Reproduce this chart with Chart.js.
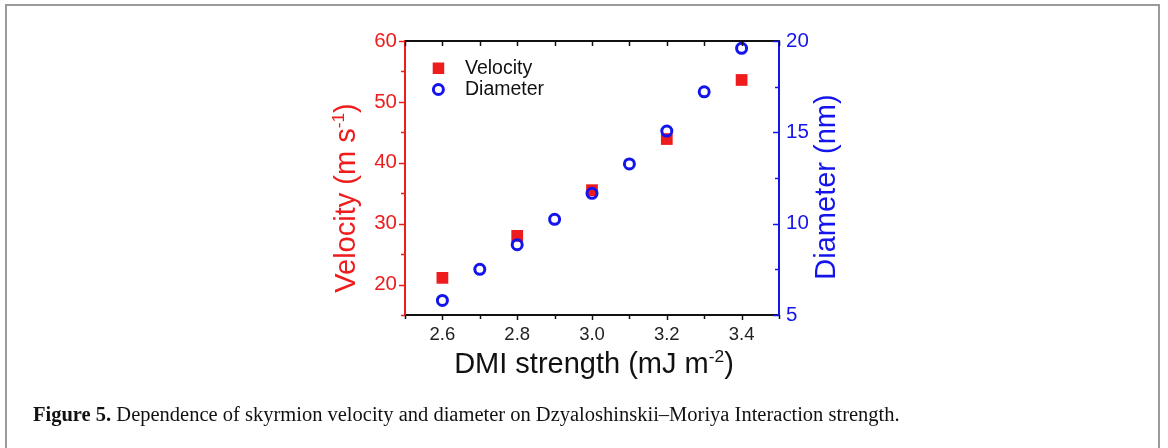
<!DOCTYPE html>
<html>
<head>
<meta charset="utf-8">
<script src="https://cdn.jsdelivr.net/npm/chart.js@4.4.1/dist/chart.umd.min.js"></script>
<style>
  html, body { margin: 0; padding: 0; background: #fff; width: 1168px; height: 448px; overflow: hidden; }
  #frame { position: absolute; left: 5px; top: 4px; width: 1155px; height: 460px; border: 2px solid #9a9a9a; box-sizing: border-box; }
  #c { position: absolute; left: 0; top: 0; }
  #cap { position: absolute; left: 33px; top: 404px; font: 20.5px "Liberation Serif", "Times New Roman", serif; color: #111; line-height: 20px; white-space: nowrap; }
</style>
</head>
<body>
<div id="frame"></div>
<canvas id="c" width="1168" height="448"></canvas>
<div id="cap"><b>Figure 5.</b> Dependence of skyrmion velocity and diameter on Dzyaloshinskii–Moriya Interaction strength.</div>
<script>
// valeurs
const dmiVel = [2.6, 2.8, 3.0, 3.2, 3.4];
const velocity = [21.1, 28.0, 35.5, 43.9, 53.6];
const dmiDia = [2.6, 2.7, 2.8, 2.9, 3.0, 3.1, 3.2, 3.3, 3.4];
const diameter = [5.8, 7.5, 8.85, 10.24, 11.66, 13.27, 15.07, 17.22, 19.6];
const legendLabels = ['Velocity', 'Diameter'];

const RED = '#ee1c1c';
const BLUE = '#1414ec';
const FONT = '"Liberation Sans", Arial, sans-serif';

// écrit un texte avec exposant, centré en (x, y)
function richText(ctx, parts, x, y, size) {
    let w = 0;
    parts.forEach(p => {
        ctx.font = (p.sup ? size * 0.6 : size) + 'px ' + FONT;
        p.w = ctx.measureText(p.t).width;
        w += p.w;
    });
    let cx = x - w / 2;
    parts.forEach(p => {
        ctx.font = (p.sup ? size * 0.6 : size) + 'px ' + FONT;
        ctx.fillText(p.t, cx, p.sup ? y - size * 0.38 : y);
        cx += p.w;
    });
}

// graduations dessinées à partir des ticks de l'échelle
function drawTicks(ctx, scale, edge, dir, color, majLen, minLen) {
    ctx.strokeStyle = color;
    ctx.lineWidth = 1.5;
    scale.ticks.forEach(t => {
        const p = Math.round(scale.getPixelForValue(t.value)) + 0.5;
        const len = (t.label !== '' ? majLen : minLen) * dir;
        ctx.beginPath();
        if (scale.isHorizontal()) {
            ctx.moveTo(p, edge);
            ctx.lineTo(p, edge + len);
        } else {
            ctx.moveTo(edge, p);
            ctx.lineTo(edge + len, p);
        }
        ctx.stroke();
    });
}

const decor = {
    id: 'decor',
    afterDraw(chart) {
        const ctx = chart.ctx;
        const a = chart.chartArea;
        const sx = chart.scales.x, sy = chart.scales.y, sy2 = chart.scales.y2;
        ctx.save();
        // cadre du haut
        ctx.strokeStyle = '#111';
        ctx.lineWidth = 2;
        ctx.beginPath();
        ctx.moveTo(a.left, a.top);
        ctx.lineTo(a.right, a.top);
        ctx.stroke();

        drawTicks(ctx, sx, a.bottom, 1, '#111', 5, 4);
        drawTicks(ctx, sx, a.top, 1, '#111', 5, 5);
        drawTicks(ctx, sy, a.left, -1, RED, 6, 4);
        drawTicks(ctx, sy2, a.right, -1, BLUE, 6, 4);

        // titres des axes
        ctx.textBaseline = 'alphabetic';
        ctx.fillStyle = '#111';
        richText(ctx, [{t: 'DMI strength (mJ m'}, {t: '-2', sup: true}, {t: ')'}], 594, 373, 29);

        ctx.save();
        ctx.translate(355, 198);
        ctx.rotate(-Math.PI / 2);
        ctx.fillStyle = RED;
        richText(ctx, [{t: 'Velocity (m s'}, {t: '-1', sup: true}, {t: ')'}], 0, 0, 29);
        ctx.restore();

        ctx.save();
        ctx.translate(835, 187);
        ctx.rotate(-Math.PI / 2);
        ctx.fillStyle = BLUE;
        richText(ctx, [{t: 'Diameter (nm)'}], 0, 0, 29);
        ctx.restore();

        // légende
        ctx.fillStyle = RED;
        ctx.fillRect(432.7, 62.5, 11.5, 11.5);
        ctx.strokeStyle = BLUE;
        ctx.lineWidth = 3;
        ctx.beginPath();
        ctx.arc(438.4, 89.5, 5, 0, Math.PI * 2);
        ctx.stroke();
        ctx.fillStyle = '#111';
        ctx.font = '19.5px ' + FONT;
        ctx.textBaseline = 'middle';
        ctx.fillText(legendLabels[0], 465, 68.5);
        ctx.fillText(legendLabels[1], 465, 90);
        ctx.restore();
    }
};

new Chart(document.getElementById('c'), {
    type: 'scatter',
    data: {
        datasets: [
            {
                label: legendLabels[1],
                data: dmiDia.map((x, i) => ({x: x, y: diameter[i]})),
                yAxisID: 'y2',
                pointStyle: 'circle',
                pointRadius: 5,
                borderWidth: 3,
                borderColor: BLUE,
                backgroundColor: 'rgba(0,0,0,0)',
                order: 0
            },
            {
                label: legendLabels[0],
                data: dmiVel.map((x, i) => ({x: x, y: velocity[i]})),
                yAxisID: 'y',
                pointStyle: 'rect',
                pointRadius: 8.3,
                borderWidth: 0,
                backgroundColor: RED,
                borderColor: RED,
                order: 1
            }
        ]
    },
    options: {
        responsive: false,
        animation: false,
        devicePixelRatio: 1,
        layout: { padding: { top: 41, left: 0, right: 0, bottom: 0 } },
        plugins: { legend: { display: false }, tooltip: { enabled: false } },
        scales: {
            x: {
                type: 'linear', position: 'bottom', min: 2.5, max: 3.5,
                afterFit: s => { s.height = 133; },
                grid: { drawOnChartArea: false, drawTicks: false },
                border: { color: '#111', width: 2 },
                ticks: {
                    stepSize: 0.1, padding: 9, color: '#222', font: { family: FONT, size: 18.5 },
                    maxRotation: 0, autoSkip: false,
                    callback: v => Math.round(v * 10) % 2 === 0 ? v.toFixed(1) : ''
                }
            },
            y: {
                type: 'linear', position: 'left', min: 15, max: 60,
                afterFit: s => { s.width = 405; },
                grid: { drawOnChartArea: false, drawTicks: false },
                border: { color: RED, width: 2 },
                ticks: {
                    stepSize: 5, padding: 8, color: RED, font: { family: FONT, size: 20.5 },
                    autoSkip: false,
                    callback: v => v % 10 === 0 ? String(v) : ''
                }
            },
            y2: {
                type: 'linear', position: 'right', min: 5, max: 20,
                afterFit: s => { s.width = 389; },
                grid: { drawOnChartArea: false, drawTicks: false },
                border: { color: BLUE, width: 2 },
                ticks: {
                    stepSize: 2.5, padding: 7, color: BLUE, font: { family: FONT, size: 20.5 },
                    autoSkip: false,
                    callback: v => v % 5 === 0 ? String(v) : ''
                }
            }
        }
    },
    plugins: [decor]
});
</script>
</body>
</html>
